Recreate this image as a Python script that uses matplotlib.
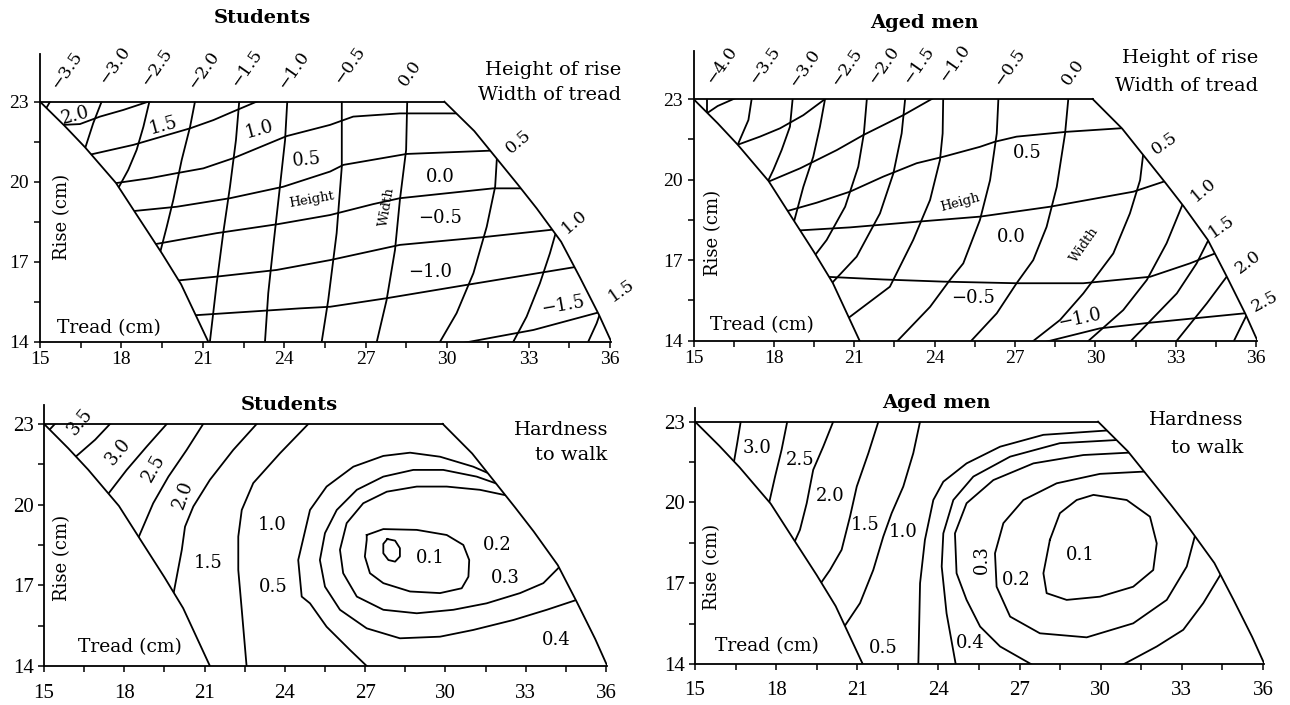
import numpy as np
import matplotlib
matplotlib.use("Agg")
import matplotlib.pyplot as plt
from matplotlib.patches import Polygon

plt.rcParams['font.family'] = ['DejaVu Serif']

# ---------------- data (tread cm, rise cm) ----------------
tread_major = [15, 18, 21, 24, 27, 30, 33, 36]
tread_minor = [16.5, 19.5, 22.5, 25.5, 28.5, 31.5, 34.5]
rise_major = [14, 17, 20, 23]
rise_minor = [15.5, 18.5, 21.5]

# feasible region boundary
left_edge_tread = [15.0, 15.9, 16.65, 17.8, 18.6, 19.5, 20.2, 21.2]
left_edge_rise = [23.0, 22.1, 21.3, 19.95, 18.7, 17.3, 16.15, 14.0]
right_edge_tread = [29.9, 31.0, 31.8, 32.6, 33.3, 34.2, 34.9, 35.6, 36.05]
right_edge_rise = [23.0, 21.9, 20.9, 19.9, 19.0, 17.75, 16.4, 15.0, 14.0]

# Students: height of rise
st_height_levels = [2.0, 1.5, 1.0, 0.5, 0.0, -0.5, -1.0, -1.5]
st_height_tread = [
    [15.86, 16.47, 17.21, 18.07, 18.99],
    [16.96, 18.44, 20.53, 21.39, 22.12, 22.98],
    [17.89, 19.05, 20.04, 21.02, 22.12, 24.09, 25.69, 26.54, 28.26, 30.17],
    [18.56, 20.04, 22.0, 23.96, 25.69, 26.18, 28.51, 31.52],
    [19.42, 21.51, 23.78, 25.69, 27.28, 28.26, 31.7, 32.69],
    [20.22, 21.51, 23.72, 25.69, 28.26, 31.33, 33.79],
    [20.83, 24.58, 25.69, 27.77, 30.72, 34.78],
    [30.84, 33.18, 35.7],
]
st_height_rise = [
    [22.13, 22.16, 22.44, 22.69, 23.0],
    [21.04, 21.38, 22.0, 22.31, 22.63, 23.0],
    [19.96, 20.13, 20.32, 20.5, 20.88, 21.71, 22.13, 22.44, 22.56, 22.56],
    [18.91, 19.06, 19.38, 19.81, 20.38, 20.63, 21.04, 21.16],
    [17.69, 18.07, 18.41, 18.75, 19.16, 19.38, 19.75, 19.75],
    [16.31, 16.44, 16.69, 17.06, 17.63, 17.92, 18.19],
    [15.0, 15.25, 15.31, 15.63, 16.13, 16.81],
    [14.0, 14.44, 15.13],
]

# Students: width of tread
st_width_levels = [-3.5, -3.0, -2.5, -2.0, -1.5, -1.0, -0.5, 0.0, 0.5, 1.0, 1.5]
st_width_tread = [
    [15.37, 15.25],
    [17.27, 16.96, 16.69],
    [19.03, 18.81, 18.56, 18.25, 17.95],
    [20.71, 20.53, 20.22, 19.91, 19.67, 19.48],
    [22.34, 22.22, 22.0, 21.75, 21.51, 21.26],
    [24.11, 24.03, 23.84, 23.62, 23.41, 23.29],
    [26.12, 26.12, 25.93, 25.62, 25.38],
    [28.53, 28.49, 28.26, 28.08, 27.77, 27.41],
    [31.83, 31.77, 31.46, 30.97, 30.35, 29.74],
    [33.98, 33.79, 33.42, 32.93, 32.44],
    [35.7, 35.51, 35.2],
]
st_width_rise = [
    [23.0, 22.79],
    [23.0, 22.19, 21.34],
    [23.0, 22.06, 21.19, 20.44, 19.88],
    [23.0, 22.06, 20.81, 19.31, 18.31, 17.56],
    [23.0, 21.56, 19.81, 18.07, 16.19, 14.0],
    [23.0, 21.56, 19.81, 17.81, 15.82, 14.0],
    [23.0, 20.56, 18.07, 15.56, 14.0],
    [23.0, 21.19, 19.31, 17.44, 15.56, 14.0],
    [20.81, 19.81, 18.31, 16.57, 15.07, 14.0],
    [18.0, 17.32, 16.19, 14.94, 14.0],
    [15.25, 14.69, 14.0],
]

# Aged men: height of rise
ag_height_levels = [2.0, 1.5, 1.0, 0.5, 0.0, -0.5, -1.0]
ag_height_tread = [
    [15.5, 15.9, 16.49],
    [16.71, 17.48, 18.23, 19.1, 19.91],
    [17.79, 18.98, 20.35, 21.34, 22.83, 23.89],
    [18.54, 19.6, 20.84, 22.08, 23.33, 24.32, 25.69, 26.25, 27.06, 28.93, 30.92],
    [19.16, 20.84, 23.33, 25.69, 28.31, 31.42, 32.54],
    [19.97, 22.08, 24.32, 27.06, 29.55, 32.04, 33.53, 34.47],
    [28.68, 30.17, 32.04, 35.58],
]
ag_height_rise = [
    [22.47, 22.74, 23.0],
    [21.32, 21.6, 21.91, 22.4, 23.0],
    [19.92, 20.42, 21.1, 21.66, 22.4, 23.0],
    [18.84, 19.14, 19.55, 20.11, 20.61, 20.85, 21.22, 21.41, 21.6, 21.78, 21.91],
    [18.12, 18.22, 18.43, 18.62, 18.99, 19.55, 19.92],
    [16.38, 16.28, 16.2, 16.14, 16.14, 16.38, 16.88, 17.25],
    [14.09, 14.46, 14.67, 15.02],
]

# Aged men: width of tread
ag_width_levels = [-4.0, -3.5, -3.0, -2.5, -2.0, -1.5, -1.0, -0.5, 0.0, 0.5, 1.0, 1.5, 2.0, 2.5]
ag_width_tread = [
    [15.5, 15.5],
    [17.17, 17.05, 16.63],
    [18.7, 18.6, 18.29, 17.98, 17.75],
    [19.91, 19.72, 19.47, 19.1, 18.75],
    [21.47, 21.36, 21.15, 20.66, 19.97, 19.54],
    [22.9, 22.77, 22.46, 21.96, 21.09, 20.16],
    [24.32, 24.3, 24.2, 23.83, 23.2, 22.33, 20.84],
    [26.38, 26.32, 26.07, 25.69, 25.07, 24.57, 23.83, 22.64],
    [28.99, 28.87, 28.56, 28.18, 27.68, 27.06, 26.32, 25.51],
    [31.79, 31.67, 31.29, 30.67, 29.55, 28.68, 27.81],
    [33.22, 32.66, 31.92, 31.04, 29.92],
    [34.22, 33.78, 33.04, 31.48],
    [34.9, 34.16, 33.16],
    [35.65, 35.28],
]
ag_width_rise = [
    [23.0, 22.47],
    [23.0, 22.22, 21.25],
    [23.0, 21.97, 21.1, 20.36, 19.88],
    [23.0, 21.97, 20.85, 19.73, 18.43],
    [23.0, 21.72, 20.48, 18.99, 17.75, 17.19],
    [23.0, 21.72, 20.23, 18.74, 17.13, 16.14],
    [23.0, 21.72, 20.73, 19.24, 17.75, 16.01, 14.89],
    [23.0, 21.72, 19.98, 18.49, 16.88, 16.26, 15.26, 14.02],
    [23.0, 21.72, 19.73, 18.24, 17.0, 16.14, 15.02, 14.15],
    [20.98, 19.98, 18.74, 17.25, 15.76, 14.77, 14.09],
    [18.99, 17.63, 16.26, 15.14, 14.15],
    [17.75, 16.88, 15.76, 14.15],
    [16.38, 15.39, 14.15],
    [14.96, 14.21],
]

# Students: hardness to walk
sh_levels = [3.5, 3.0, 2.5, 2.0, 1.5, 1.0, 0.5, 0.4, 0.3, 0.2, 0.1]
sh_tread = [
    [15.41, 15.22],
    [17.47, 16.91, 16.16],
    [19.59, 18.84, 18.09, 17.34],
    [20.95, 20.33, 19.65, 19.08, 18.52],
    [22.95, 22.07, 21.2, 20.58, 20.27, 20.15, 19.96, 19.83],
    [24.88, 23.82, 22.82, 22.39, 22.26, 22.26, 22.39, 22.57],
    [32.04, 31.04, 29.8, 28.68, 27.68, 26.56, 25.56, 24.94, 24.5, 24.63, 24.94, 25.56, 26.43, 27.06],
    [32.23, 31.17, 29.92, 28.8, 27.68, 26.69, 25.94, 25.5, 25.31, 25.5, 26.06, 27.06, 28.3, 29.8,
     31.04, 32.54, 33.79, 34.91],
    [32.48, 31.29, 30.05, 28.93, 27.81, 26.93, 26.31, 26.06, 26.18, 26.69, 27.68, 28.93, 30.3,
     31.54, 32.79, 33.66, 34.22],
    [27.06, 27.68, 28.93, 30.05, 30.67, 30.89, 30.86, 30.61, 29.8, 28.68, 27.68, 27.18, 26.99,
     27.06, 27.06],
    [27.83, 28.12, 28.3, 28.3, 28.12, 27.87, 27.68, 27.68, 27.83],
]
sh_rise = [
    [23.0, 22.8],
    [23.0, 22.41, 21.76],
    [23.0, 22.16, 21.29, 20.32],
    [23.0, 22.03, 21.04, 20.05, 18.75],
    [23.0, 22.03, 20.92, 19.93, 19.18, 18.32, 17.32, 16.64],
    [23.0, 21.91, 20.8, 19.8, 18.81, 17.57, 16.09, 14.0],
    [20.98, 21.41, 21.78, 21.93, 21.81, 21.41, 20.67, 19.8, 17.94, 16.58, 16.33, 15.46, 14.6, 14.0],
    [20.67, 21.04, 21.29, 21.29, 21.04, 20.55, 19.8, 18.94, 17.94, 16.95, 16.09, 15.4, 15.03, 15.09,
     15.34, 15.71, 16.09, 16.46],
    [20.3, 20.55, 20.67, 20.67, 20.48, 20.05, 19.31, 18.32, 17.45, 16.58, 16.09, 15.96, 16.09,
     16.33, 16.71, 17.08, 17.64],
    [18.87, 19.09, 19.06, 18.87, 18.5, 17.94, 17.32, 16.89, 16.71, 16.77, 17.08, 17.45, 18.07,
     18.69, 18.87],
    [18.72, 18.66, 18.38, 18.07, 17.88, 17.94, 18.19, 18.54, 18.72],
]

# Aged men: hardness to walk
ah_levels = [3.0, 2.5, 2.0, 1.5, 1.0, 0.5, 0.4, 0.3, 0.3, 0.2, 0.1]
ah_tread = [
    [16.69, 16.56, 16.42],
    [18.41, 18.2, 17.96, 17.71],
    [20.11, 19.74, 19.37, 19.13, 18.88, 18.63],
    [21.78, 21.41, 20.98, 20.73, 20.42, 19.99, 19.56],
    [23.32, 23.07, 22.7, 22.27, 21.96, 21.59, 21.1, 20.48],
    [30.22, 27.88, 26.28, 25.04, 24.18, 23.81, 23.5, 23.32, 23.26],
    [30.65, 28.49, 26.65, 25.29, 24.55, 24.18, 24.12, 24.3, 24.61],
    [31.08, 29.36, 27.51, 26.03, 25.04, 24.61, 24.67, 25.04, 25.54, 26.28, 27.26],
    [34.38, 33.79, 33.05, 32.07, 31.14],
    [31.7, 29.97, 28.37, 27.14, 26.4, 26.09, 26.15, 26.65, 27.75, 29.48, 31.2, 32.44, 33.18, 33.49],
    [28.12, 28.49, 29.11, 29.73, 30.96, 31.82, 32.07, 31.94, 31.2, 29.97, 28.74, 28.0, 27.88, 28.0, 28.12],
]
ah_rise = [
    [23.0, 22.2, 21.39],
    [23.0, 21.95, 20.96, 19.85],
    [23.0, 22.07, 21.21, 19.97, 18.98, 18.42],
    [23.0, 21.83, 20.59, 19.47, 18.24, 17.49, 16.87],
    [23.0, 21.83, 20.59, 19.6, 18.73, 17.49, 16.26, 15.33],
    [22.67, 22.51, 22.07, 21.45, 20.77, 20.09, 18.61, 17.0, 14.15],
    [22.32, 22.2, 21.7, 20.96, 20.09, 18.85, 17.62, 15.88, 14.15],
    [21.85, 21.76, 21.45, 20.83, 19.97, 18.85, 17.37, 16.38, 15.39, 14.65, 14.09],
    [17.24, 16.26, 15.27, 14.65, 14.15],
    [21.15, 21.06, 20.71, 20.09, 19.23, 18.11, 16.87, 15.76, 15.14, 14.99, 15.51, 16.38, 17.62, 18.79],
    [18.61, 19.6, 20.09, 20.28, 20.09, 19.47, 18.48, 17.49, 16.87, 16.5, 16.38, 16.63, 17.37, 17.99, 18.61],
]

# ---------------- drawing ----------------
W, H = 1290, 705
fig = plt.figure(figsize=(12.9, 7.05), dpi=100)
LW = 1.3
X_RIGHT = 36.05
TICK_FONT = 'Liberation Serif'


def fmt(v):
    s = f"{abs(v):.1f}"
    return ("\u2212" + s) if v < 0 else s


def make_panel(x15, y14, pxx, pxy, ytop, tick_size, xpad, ypad):
    left = x15 / W
    width = (X_RIGHT - 15) * pxx / W
    bottom = (H - y14) / H
    height = (ytop - 14) * pxy / H
    ax = fig.add_axes([left, bottom, width, height])
    ax.set_xlim(15, X_RIGHT)
    ax.set_ylim(14, ytop)
    for s in ("top", "right"):
        ax.spines[s].set_visible(False)
    for s in ("left", "bottom"):
        ax.spines[s].set_linewidth(LW)
    ax.set_xticks(tread_major)
    ax.set_xticklabels([str(v) for v in tread_major], family=TICK_FONT, fontsize=tick_size)
    ax.set_xticks(tread_minor, minor=True)
    ax.set_yticks(rise_major)
    ax.set_yticklabels([str(v) for v in rise_major], family=TICK_FONT, fontsize=tick_size)
    ax.set_yticks(rise_minor, minor=True)
    ax.tick_params(which="both", direction="out", length=4, width=1.1)
    ax.tick_params(axis="x", pad=xpad)
    ax.tick_params(axis="y", pad=ypad)
    ax.patch.set_alpha(0)
    # region boundary
    verts = list(zip(left_edge_tread, left_edge_rise)) + \
        list(zip(right_edge_tread[::-1], right_edge_rise[::-1]))
    poly = Polygon(verts, closed=True, facecolor="none", edgecolor="none",
                   transform=ax.transData)
    ax.add_patch(poly)
    ax.plot(left_edge_tread, left_edge_rise, color="black", lw=LW)
    ax.plot(right_edge_tread, right_edge_rise, color="black", lw=LW)
    ax.plot([left_edge_tread[0], right_edge_tread[0]],
            [left_edge_rise[0], right_edge_rise[0]], color="black", lw=LW)
    return ax, poly


def extend(t, r, amount=0.6):
    t = list(t)
    r = list(r)
    if t[0] == t[-1] and r[0] == r[-1]:
        return t, r

    def ext(at, ar, bt, br):
        dt, dr = bt - at, br - ar
        n = np.hypot(dt, dr)
        if n == 0:
            return bt, br
        return bt + dt / n * amount, br + dr / n * amount

    a = ext(t[1], r[1], t[0], r[0])
    b = ext(t[-2], r[-2], t[-1], r[-1])
    return [a[0]] + t + [b[0]], [a[1]] + r + [b[1]]


def draw_lines(ax, poly, treads, rises):
    for t, r in zip(treads, rises):
        et, er = extend(t, r)
        ln, = ax.plot(et, er, color="black", lw=LW, solid_joinstyle="round")
        ln.set_clip_path(poly)


def put_labels(ax, labels, size=13):
    for txt, t, r, rot in labels:
        ax.text(t, r, txt, fontsize=size, rotation=rot, ha="center", va="center",
                rotation_mode="anchor", clip_on=False)


def axis_names(ax, tread_pos, rise_pos):
    ax.text(tread_pos[0], tread_pos[1], "Tread (cm)", fontsize=13.5,
            ha="center", va="center")
    ax.text(rise_pos[0], rise_pos[1], "Rise (cm)", fontsize=13,
            rotation=90, ha="center", va="center")


# Panel 1: Students, rise/tread evaluation
ax1, p1 = make_panel(40, 341.7, 27.14, 26.67, 24.8, 14, 3, 4)
draw_lines(ax1, p1, st_height_tread, st_height_rise)
draw_lines(ax1, p1, st_width_tread, st_width_rise)
top1 = [15.98, 17.76, 19.3, 21.02, 22.62, 24.33, 26.42, 28.63]
top1_r = [24.19, 24.38, 24.31, 24.19, 24.25, 24.19, 24.38, 24.07]
put_labels(ax1, [(fmt(v), t, r, 55) for v, t, r in zip(st_width_levels[:8], top1, top1_r)], 12.5)
put_labels(ax1, [("0.5", 32.62, 21.5, 40), ("1.0", 34.71, 18.5, 40), ("1.5", 36.43, 15.94, 35)], 12.5)
put_labels(ax1, [("2.0", 16.29, 22.5, 15), ("1.5", 19.54, 22.09, 15), ("1.0", 23.1, 21.96, 15),
                 ("0.5", 24.83, 20.81, 5), ("0.0", 29.74, 20.19, 0), ("\u22120.5", 29.74, 18.63, 0),
                 ("\u22121.0", 29.37, 16.63, 0), ("\u22121.5", 34.28, 15.38, 10)])
put_labels(ax1, [("Height", 25.02, 19.31, 10), ("Width", 27.77, 19.06, 80)], 9.5)
axis_names(ax1, (17.54, 14.5), (15.8, 18.69))

# Panel 2: Aged men, rise/tread evaluation
ax2, p2 = make_panel(693.5, 340.7, 26.79, 26.85, 24.8, 14, 3, 4)
draw_lines(ax2, p2, ag_height_tread, ag_height_rise)
draw_lines(ax2, p2, ag_width_tread, ag_width_rise)
top2 = [16.05, 17.67, 19.16, 20.72, 22.08, 23.39, 24.76, 26.81, 29.18]
top2_r = [24.27, 24.27, 24.15, 24.2, 24.27, 24.27, 24.33, 24.2, 24.0]
put_labels(ax2, [(fmt(v), t, r, 55) for v, t, r in zip(ag_width_levels[:9], top2, top2_r)], 12.5)
put_labels(ax2, [("0.5", 32.6, 21.35, 35), ("1.0", 34.03, 19.61, 40), ("1.5", 34.72, 18.24, 35),
                 ("2.0", 35.71, 16.94, 37), ("2.5", 36.33, 15.45, 28)], 12.5)
put_labels(ax2, [("0.5", 27.44, 20.98, 0), ("0.0", 26.88, 17.87, 0), ("\u22120.5", 25.44, 15.58, 0),
                 ("\u22121.0", 29.43, 14.83, 12)])
put_labels(ax2, [("Heigh", 24.95, 19.13, 15), ("Width", 29.61, 17.56, 55)], 9.5)
axis_names(ax2, (17.55, 14.58), (15.74, 18.0))

# Panel 3: Students, hardness to walk
ax3, p3 = make_panel(44, 666, 26.76, 26.9, 23.7, 15, 9, 3)
draw_lines(ax3, p3, sh_tread, sh_rise)
put_labels(ax3, [("3.5", 16.35, 23.09, 50), ("3.0", 17.78, 21.97, 50), ("2.5", 19.08, 21.35, 60),
                 ("2.0", 20.21, 20.36, 70), ("1.5", 21.14, 17.82, 0), ("1.0", 23.51, 19.25, 0),
                 ("0.5", 23.57, 16.95, 0), ("0.2", 31.92, 18.5, 0), ("0.3", 32.23, 17.26, 0),
                 ("0.1", 29.42, 18.0, 0), ("0.4", 34.16, 14.97, 0)])
axis_names(ax3, (18.21, 14.72), (15.66, 18.0))

# Panel 4: Aged men, hardness to walk
ax4, p4 = make_panel(695, 664, 27.05, 26.93, 23.5, 15, 8, 3)
draw_lines(ax4, p4, ah_tread, ah_rise)
put_labels(ax4, [("3.0", 17.28, 22.01, 0), ("2.5", 18.88, 21.58, 0), ("2.0", 19.99, 20.22, 0),
                 ("1.5", 21.28, 19.16, 0), ("1.0", 22.7, 18.92, 0), ("0.5", 21.96, 14.58, 0),
                 ("0.4", 25.17, 14.77, 0), ("0.3", 25.6, 17.86, 90), ("0.2", 26.89, 17.12, 0),
                 ("0.1", 29.23, 18.05, 0)])
axis_names(ax4, (17.65, 14.65), (15.62, 17.62))


def ftext(x, y, s, **kw):
    fig.text(x / W, 1 - y / H, s, **kw)


ftext(262, 18, "Students", fontsize=14, fontweight="bold", ha="center", va="center")
ftext(924, 23, "Aged men", fontsize=14, fontweight="bold", ha="center", va="center")
ftext(289, 405, "Students", fontsize=14, fontweight="bold", ha="center", va="center")
ftext(936, 403, "Aged men", fontsize=14, fontweight="bold", ha="center", va="center")
ftext(621, 70, "Height of rise", fontsize=14, ha="right", va="center")
ftext(621, 95, "Width of tread", fontsize=14, ha="right", va="center")
ftext(1258, 58, "Height of rise", fontsize=14, ha="right", va="center")
ftext(1258, 86, "Width of tread", fontsize=14, ha="right", va="center")
ftext(608, 430, "Hardness", fontsize=14, ha="right", va="center")
ftext(607, 455, "to walk", fontsize=14, ha="right", va="center")
ftext(1243, 420, "Hardness", fontsize=14, ha="right", va="center")
ftext(1243, 448, "to walk", fontsize=14, ha="right", va="center")

fig.savefig("out.png", dpi=100)
